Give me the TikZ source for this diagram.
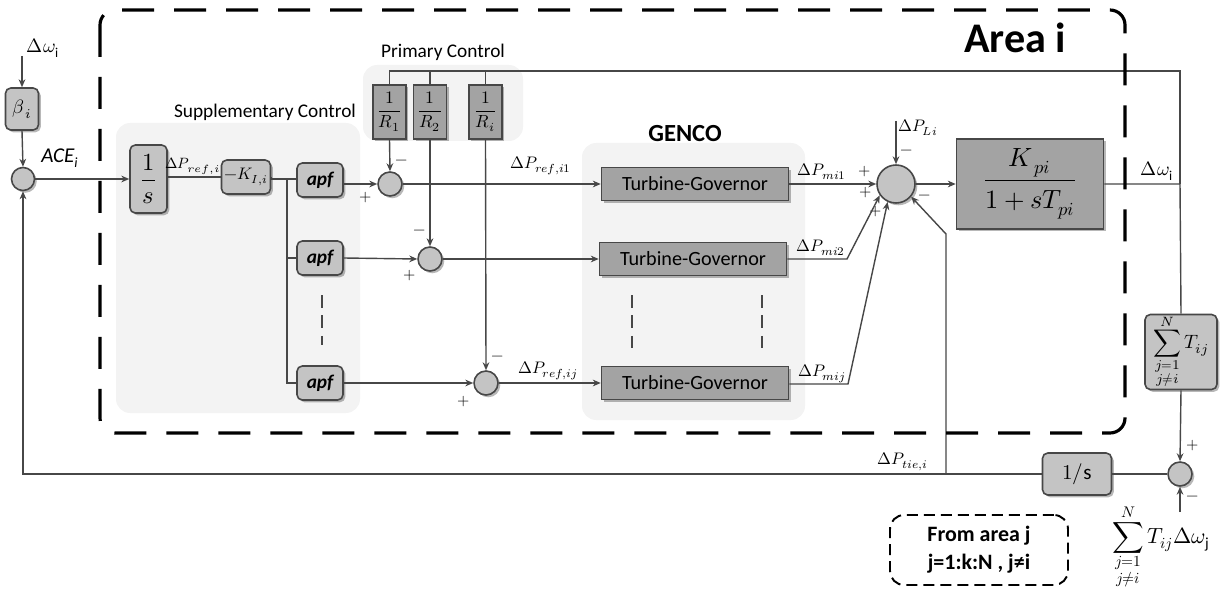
\documentclass[tikz,border=0pt]{standalone}
\usepackage{amsmath}
\usepackage{fontspec}
\usepackage{unicode-math}
\setmainfont{Carlito}
\setmathfont{Latin Modern Math}
\usetikzlibrary{arrows.meta,shadows,calc}
\definecolor{lboxc}{HTML}{C4C4C4}
\definecolor{dboxc}{HTML}{A3A3A3}
\definecolor{bgc}{HTML}{F3F3F3}
\definecolor{wirec}{HTML}{474747}
\tikzset{
 wire/.style={draw=wirec,line width=0.8pt},
 arr/.style={wire,-{Stealth[length=4.5pt,width=3.8pt]}},
 shd/.style={drop shadow={shadow xshift=1.3pt,shadow yshift=-1.3pt,fill=black,opacity=0.28}},
 lbox/.style={draw=wirec,line width=0.9pt,fill=lboxc,rounded corners=3pt,shd,inner sep=0pt,align=center},
 dbox/.style={draw=wirec,line width=0.9pt,fill=dboxc,shd,inner sep=0pt,align=center},
 sumc/.style={circle,draw=wirec,line width=0.9pt,fill=lboxc,inner sep=0pt,minimum size=0.48cm,shd},
 bgreg/.style={fill=bgc,rounded corners=8pt},
 sgn/.style={font=\fontsize{9}{9}\selectfont,inner sep=0pt},
 lab/.style={font=\fontsize{9.5}{11}\selectfont,inner sep=0pt},
 ttl/.style={font=\fontsize{11}{13}\selectfont,inner sep=0pt},
 apfbox/.style={lbox,minimum width=0.92cm,minimum height=0.68cm,font=\fontsize{11}{13}\selectfont\bfseries\itshape},
 tgbox/.style={dbox,minimum width=3.74cm,minimum height=0.66cm,font=\fontsize{11.5}{13}\selectfont},
 rbox/.style={dbox,minimum width=0.66cm,minimum height=1.08cm,font=\fontsize{10}{12}\selectfont},
 vdash/.style={draw=wirec,line width=1.6pt,dash pattern=on 0.26cm off 0.15cm},
}
\begin{document}
\begin{tikzpicture}[x=0.02cm,y=-0.02cm]
\useasboundingbox (0,0) rectangle (1227,591);
% background regions
\path[bgreg] (116,123) rectangle (360,413);
\path[bgreg] (363,65) rectangle (523,141);
\path[bgreg] (582,143) rectangle (805,420);
% titles
\node[font=\fontsize{24}{28}\selectfont\bfseries,inner sep=0pt] (areat) at (1015,38) {Area i};
\node[ttl] (supt) at (265,112) {Supplementary Control};
\node[ttl] (primt) at (443,52) {Primary Control};
\node[font=\fontsize{14}{16}\selectfont\bfseries,inner sep=0pt] (gencot) at (685,134) {GENCO};
% blocks
\node[lbox,minimum width=0.66cm,minimum height=0.84cm,font=\fontsize{11}{13}\selectfont] (beta) at (22,109) {$\beta_{\,i}$};
\node[sumc,minimum size=0.46cm] (ace) at (23,179) {};
\node[lbox,minimum width=0.74cm,minimum height=1.36cm,font=\fontsize{14}{16}\selectfont] (ints) at (148.5,179) {$\displaystyle\frac{1}{s}$};
\node[lbox,minimum width=0.98cm,minimum height=0.68cm,font=\fontsize{9.5}{11}\selectfont] (ki) at (246,177) {$-K_{I,i}$};
\node[apfbox] (apf1) at (320,180) {apf};
\node[apfbox] (apf2) at (320,258) {apf};
\node[apfbox] (apf3) at (320,383) {apf};
\node[rbox] (R1) at (389.5,112) {$\displaystyle\frac{1}{R_1}$};
\node[rbox] (R2) at (430,112) {$\displaystyle\frac{1}{R_2}$};
\node[rbox] (Ri) at (485.5,112) {$\displaystyle\frac{1}{R_i}$};
\node[sumc] (s1) at (390,184) {};
\node[sumc] (s2) at (430,259) {};
\node[sumc] (s3) at (486,383) {};
\node[tgbox] (tg1) at (695,184) {Turbine-Governor};
\node[tgbox] (tg2) at (693,259) {Turbine-Governor};
\node[tgbox] (tg3) at (695,383) {Turbine-Governor};
\node[sumc,minimum size=0.76cm] (bs) at (896,184) {};
\node[dbox,minimum width=2.94cm,minimum height=1.8cm,font=\fontsize{15}{17}\selectfont] (kp) at (1030,184) {$\displaystyle\frac{K_{\,pi}\rule[-4pt]{0pt}{0pt}}{\rule{0pt}{14pt}1+sT_{pi}}$};
\node[lbox,minimum width=1.44cm,minimum height=1.5cm,font=\fontsize{11}{13}\selectfont] (sT) at (1181,352) {$\displaystyle\sum\limits_{\substack{j=1\\ j\neq i}}^{N} T_{ij}$};
\node[sumc] (ts) at (1180,474) {};
\node[lbox,minimum width=1.38cm,minimum height=0.84cm,font=\fontsize{12}{14}\selectfont] (i2) at (1077,474) {$1/\mathrm{s}$};
\node[draw=black,line width=1.1pt,dash pattern=on 0.22cm off 0.12cm,rounded corners=8pt,minimum width=3.56cm,minimum height=1.4cm,align=center,font=\fontsize{12.5}{16}\selectfont\bfseries] (fa) at (979,550) {From area j\\ j=1:k:N , j≠i};
\node[font=\fontsize{12.5}{15}\selectfont,inner sep=0pt] (sw) at (1161,547) {$\displaystyle\sum\limits_{\substack{j=1\\ j\neq i}}^{N} T_{ij}\Delta\omega_{\mathrm{j}}$};
% labels
\node[lab,font=\fontsize{11}{12}\selectfont] (lwi) at (43,48) {$\Delta\omega_{\mathrm{i}}$};
\node[font=\fontsize{12}{14}\selectfont\itshape,inner sep=0pt] (lace) at (60,158) {ACE\textsubscript{i}};
\node[lab,font=\fontsize{8.5}{10}\selectfont] (lpr) at (193,166) {$\Delta P_{ref,i}$};
\node[lab] (lpr1) at (541,166) {$\Delta P_{ref,i1}$};
\node[lab] (lprj) at (548,371) {$\Delta P_{ref,ij}$};
\node[lab] (lm1) at (822,172) {$\Delta P_{mi1}$};
\node[lab] (lm2) at (821,248) {$\Delta P_{mi2}$};
\node[lab] (lmj) at (822,374) {$\Delta P_{mij}$};
\node[lab] (lpl) at (918,128) {$\Delta P_{Li}$};
\node[lab,font=\fontsize{11}{12}\selectfont] (lwo) at (1157,171) {$\Delta\omega_{\mathrm{i}}$};
\node[lab] (ltie) at (903,462) {$\Delta P_{tie,i}$};
% signs
\node[sgn] at (402,162) {$-$};
\node[sgn] at (366,198) {$+$};
\node[sgn] at (420,232) {$-$};
\node[sgn] at (410,276) {$+$};
\node[sgn] at (498,358) {$-$};
\node[sgn] at (464,402) {$+$};
\node[sgn] at (907,152) {$-$};
\node[sgn] at (865,172) {$+$};
\node[sgn] at (866,193) {$+$};
\node[sgn] at (876,212) {$+$};
\node[sgn] at (925,197) {$-$};
\node[sgn] at (1193,446) {$+$};
\node[sgn] at (1193,498) {$-$};
% coordinates
\coordinate (win) at (22,56);
\coordinate (br) at (287,179);
\coordinate (wo) at (1180,184);
\coordinate (tr) at (1180,71);
\coordinate (k2) at (847,259);
\coordinate (k3) at (848,384);
\coordinate (pl) at (896,121);
\coordinate (fb) at (946,474);
\coordinate (fbk) at (946,234);
\coordinate (sin) at (1180,512);
% wires
\draw[arr] (win) -- (beta.north);
\draw[arr] (beta.south) -- (ace.north);
\draw[arr] (ace.east) -- (ints.west |- ace);
\draw[wire] (ints.east |- ki) -- (ki.west);
\draw[wire] (ki.east) -- (br -| ki.east) -- (br) -- (br |- apf3) -- (apf3.west);
\draw[wire] (br) -- (apf1.west |- br);
\draw[wire] (br |- apf2) -- (apf2.west);
\draw[arr] (apf1.east |- s1) -- (s1.west);
\draw[arr] (apf2.east) -- (s2.west);
\draw[arr] (apf3.east) -- (s3.west);
\draw[arr] (R1.south) -- (s1.north);
\draw[arr] (R2.south) -- (s2.north);
\draw[arr] (Ri.south) -- (s3.north);
\draw[arr] (s1.east) -- (tg1.west);
\draw[arr] (s2.east) -- (tg2.west);
\draw[arr] (s3.east) -- (tg3.west);
\draw[arr] (tg1.east) -- (bs.west);
\draw[arr] (tg2.east) -- (k2) -- (bs.215);
\draw[arr] (tg3.east |- k3) -- (k3) -- (bs.245);
\draw[arr] (pl) -- (bs.north);
\draw[arr] (bs.east) -- (kp.west);
\draw[wire] (kp.east) -- (wo) -- (sT.north);
\draw[wire] (wo) -- (tr) -- (tr -| R1) -- (R1.north);
\draw[wire] (R2.north) -- (R2.north |- tr);
\draw[wire] (Ri.north) -- (Ri.north |- tr);
\draw[arr] (sT.south) -- (ts.north);
\draw[arr] (sin) -- (ts.south);
\draw[wire] (ts.west) -- (i2.east);
\draw[arr] (i2.west) -- (i2.west -| ace) -- (ace.south);
\draw[arr] (fb) -- (fbk) -- (bs.-40);
% dashed ellipsis marks
\draw[vdash] (322,295) -- (322,345);
\draw[vdash] (632,295) -- (632,348);
\draw[vdash] (762,295) -- (762,348);
% area boundary
\draw[black,line width=1.8pt,dash pattern=on 0.64cm off 0.4cm,rounded corners=0.3cm] (100,10) rectangle (1125,433);
\end{tikzpicture}
\end{document}
